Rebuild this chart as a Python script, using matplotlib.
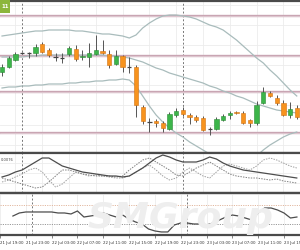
import matplotlib
matplotlib.use("Agg")
import matplotlib.pyplot as plt
from matplotlib.patches import Rectangle
import numpy as np

# ---------------- data ----------------
opens  = [1.1928,1.1933,1.1940,1.1947,1.1947,1.1947,1.1956,1.1950,1.1943,1.1942,
          1.1946,1.1951,1.1943,1.1943,1.1946,1.1949,1.1946,1.1936,1.1944,1.1933,
          1.1933,1.1893,1.1878,1.1879,1.1877,1.1871,1.1885,1.1890,1.1885,1.1883,
          1.1882,1.1871,1.1871,1.1880,1.1885,1.1888,1.1887,1.1880,1.1877,1.1897,
          1.1907,1.1902,1.1897,1.1885,1.1892]
highs  = [1.1936,1.1944,1.1948,1.1948,1.1948,1.1956,1.1958,1.1952,1.1947,1.1947,
          1.1954,1.1955,1.1950,1.1957,1.1965,1.1960,1.1950,1.1950,1.1945,1.1943,
          1.1935,1.1895,1.1882,1.1881,1.1879,1.1888,1.1892,1.1893,1.1887,1.1885,
          1.1884,1.1873,1.1883,1.1886,1.1889,1.1889,1.1889,1.1881,1.1899,1.1913,
          1.1909,1.1905,1.1900,1.1898,1.1895]
lows   = [1.1924,1.1932,1.1939,1.1946,1.1942,1.1944,1.1947,1.1943,1.1939,1.1937,
          1.1944,1.1939,1.1940,1.1933,1.1945,1.1946,1.1932,1.1935,1.1928,1.1927,
          1.1883,1.1876,1.1868,1.1873,1.1868,1.1870,1.1883,1.1884,1.1876,1.1878,
          1.1869,1.1865,1.1870,1.1879,1.1881,1.1886,1.1876,1.1873,1.1875,1.1896,
          1.1903,1.1895,1.1884,1.1882,1.1881]
closes = [1.1933,1.1942,1.1946,1.1947,1.1947,1.1953,1.1948,1.1945,1.1943,1.1942,
          1.1952,1.1941,1.1944,1.1947,1.1950,1.1947,1.1935,1.1944,1.1933,1.1933,
          1.1895,1.1879,1.1878,1.1877,1.1872,1.1886,1.1889,1.1886,1.1883,1.1880,
          1.1870,1.1871,1.1881,1.1884,1.1887,1.1887,1.1877,1.1877,1.1895,1.1908,
          1.1904,1.1897,1.1885,1.1891,1.1883]

bb_upper = [1.1964,1.1965,1.1966,1.1967,1.1968,1.1969,1.1969,1.1970,1.1970,1.1970,
            1.1970,1.1969,1.1969,1.1968,1.1967,1.1966,1.1966,1.1965,1.1964,1.1962,
            1.1965,1.1972,1.1977,1.1981,1.1984,1.1985,1.1985,1.1984,1.1983,1.1981,
            1.1978,1.1975,1.1973,1.1970,1.1965,1.1960,1.1954,1.1948,1.1942,1.1937,
            1.1930,1.1924,1.1917,1.1910,1.1904]
bb_middle = [1.1943,1.1943,1.1943,1.1943,1.1944,1.1944,1.1945,1.1945,1.1945,1.1945,
             1.1945,1.1945,1.1945,1.1945,1.1945,1.1945,1.1944,1.1944,1.1943,1.1942,
             1.1940,1.1938,1.1935,1.1932,1.1930,1.1927,1.1925,1.1923,1.1921,1.1919,
             1.1917,1.1914,1.1912,1.1909,1.1907,1.1904,1.1902,1.1899,1.1896,1.1894,
             1.1892,1.1890,1.1889,1.1888,1.1887]
bb_lower = [1.1912,1.1913,1.1913,1.1914,1.1914,1.1915,1.1915,1.1916,1.1916,1.1916,
            1.1917,1.1917,1.1918,1.1918,1.1919,1.1919,1.1920,1.1920,1.1921,1.1920,
            1.1914,1.1904,1.1894,1.1885,1.1878,1.1872,1.1867,1.1863,1.1858,1.1854,
            1.1850,1.1846,1.1842,1.1839,1.1837,1.1836,1.1837,1.1840,1.1844,1.1850,
            1.1855,1.1859,1.1863,1.1866,1.1868]
levels = [1.1984, 1.1944, 1.1908, 1.1867]

adx      = [16,18,21,23,27,31,35,35,31,27,25,23,21,20,19,18,17,17,16,17,
            21,25,30,35,38,36,33,31,31,31,33,36,34,30,27,25,23,22,21,20,19,18,17,16,15]
di_plus  = [11,13,16,19,23,25,21,13,6,9,15,21,19,17,18,17,16,15,15,17,
            21,25,28,23,17,13,15,21,25,21,17,15,21,27,29,27,25,23,27,33,35,33,30,27,25]
di_minus = [15,13,11,9,7,5,6,11,17,23,23,21,19,18,17,17,17,16,17,23,
            28,33,35,31,27,23,18,17,21,25,28,31,27,23,19,17,16,15,15,14,13,14,12,11,10]

rsi = [46.8,53.2,55.3,55.3,55.3,55.3,55.3,53.2,53.2,51.1,
       57.4,44.7,46.8,48.9,53.2,48.9,44.7,48.9,40.5,34.2,
       30.0,19.5,15.3,13.2,13.2,27.9,32.1,32.1,30.0,30.0,
       27.9,32.1,38.4,44.7,48.9,46.8,42.6,38.4,53.2,63.7,
       63.7,59.5,53.2,42.6,44.7]
rsi_levels = [70, 30]

tick_idx = [-2, 2, 6, 10, 14, 18, 22, 26, 30, 34, 38, 42]
tick_labels = ["21 Jul 19:00", "21 Jul 23:00", "22 Jul 03:00", "22 Jul 07:00",
               "22 Jul 11:00", "22 Jul 15:00", "22 Jul 19:00", "22 Jul 23:00",
               "23 Jul 03:00", "23 Jul 07:00", "23 Jul 11:00", "23 Jul 15:00"]
day_sep = [3, 27]

# ---------------- figure ----------------
W, H = 300, 250
fig = plt.figure(figsize=(3, 2.5), dpi=100)
fig.patch.set_facecolor("white")

def px_axes(top, bottom):
    return fig.add_axes([0, 1 - bottom / H, 1, (bottom - top) / H])

ax_main = px_axes(1, 153)
ax_osc = px_axes(153, 193)
ax_rsi = px_axes(193, 235)

xlim = (-0.3, 44.48)
n = len(opens)
x = np.arange(n)

GREEN, GREEN_E = "#3cb54a", "#2a8a35"
ORANGE, ORANGE_E = "#f7931e", "#d27212"
GRID = "#ececec"
BAND = "#a9bcbc"

for ax in (ax_main, ax_osc, ax_rsi):
    ax.set_xlim(*xlim)
    ax.set_facecolor("white")
    for s in ("left", "right"):
        ax.spines[s].set_visible(False)
    ax.tick_params(left=False, labelleft=False, right=False, bottom=False, labelbottom=False)
    for t in tick_idx:
        ax.axvline(t, color=GRID, lw=0.6, zorder=0)
    for d in day_sep:
        ax.axvline(d, color="#777777", lw=0.7, ls=(0, (2, 2)), zorder=1)
    ax.spines["top"].set_color("#4a4a4a")
    ax.spines["top"].set_linewidth(1.6)
    ax.spines["bottom"].set_color("#4a4a4a")
    ax.spines["bottom"].set_linewidth(1.6)

# main panel
ax_main.set_ylim(1.1847, 1.1999)
for yv in np.arange(1.1855, 1.2000, 0.0020):
    ax_main.axhline(yv, color=GRID, lw=0.6, zorder=0)
for lv in levels:
    ax_main.axhline(lv, color="#c9a5b3", lw=1.7, zorder=1)
    ax_main.axhline(lv, color="#e6d3da", lw=0.5, zorder=1)
ax_main.plot(x, bb_upper, color=BAND, lw=0.9, zorder=2)
ax_main.plot(x, bb_middle, color=BAND, lw=0.9, zorder=2)
ax_main.plot(x, bb_lower, color=BAND, lw=0.9, zorder=2)

bw = 0.64
for i in range(n):
    o, h, l, c = opens[i], highs[i], lows[i], closes[i]
    ax_main.vlines(i, l, h, color="#555555", lw=0.7, zorder=3)
    if abs(c - o) < 0.00005:
        ax_main.hlines(o, i - bw / 2, i + bw / 2, color="#444444", lw=0.9, zorder=4)
    else:
        up = c > o
        ax_main.add_patch(Rectangle((i - bw / 2, min(o, c)), bw, abs(c - o),
                                    facecolor=GREEN if up else ORANGE,
                                    edgecolor=GREEN_E if up else ORANGE_E,
                                    lw=0.4, zorder=4))

# logo box top-left
fig.patches.append(Rectangle((0, 1 - 13 / H), 10 / W, 13 / H, transform=fig.transFigure,
                             facecolor="#8cb63c", edgecolor="none", zorder=10))
fig.text(5 / W, 1 - 7 / H, "11", color="white", fontsize=4, ha="center", va="center",
         fontweight="bold", zorder=11)

# oscillator panel
ax_osc.set_ylim(0, 40)
for yv in (10, 20, 30):
    ax_osc.axhline(yv, color=GRID, lw=0.6, zorder=0)
ax_osc.plot(x, di_plus, color="#a0a0a0", lw=0.7, ls=(0, (1.5, 1.2)), zorder=2)
ax_osc.plot(x, di_minus, color="#808080", lw=0.7, ls=(0, (1.5, 1.2)), zorder=2)
ax_osc.plot(x, adx, color="#4d4d4d", lw=0.9, zorder=3)
ax_osc.text(0.003, 0.82, "0.0076", transform=ax_osc.transAxes, fontsize=2.6,
            color="#444444", ha="left", va="center")

# rsi panel
ax_rsi.set_ylim(6.8, 95.3)
fig.text(0.6, 1 - 218 / H, "SMGroup", fontsize=26, color="#eeeeee", ha="center",
         va="center", fontweight="bold", fontstyle="italic", zorder=0.5)
ax_rsi.patch.set_alpha(0)
ax_rsi.axhline(rsi_levels[0], color="#e2b8a0", lw=0.7, ls=(0, (1.2, 1.2)), zorder=1)
ax_rsi.axhline(rsi_levels[1], color="#999999", lw=0.7, ls=(0, (1.2, 1.2)), zorder=1)
ax_rsi.plot(x, rsi, color="#4d4d4d", lw=0.9, zorder=3)

ax_rsi.set_xticks(tick_idx)
ax_rsi.set_xticklabels(tick_labels, fontsize=2.8, color="#333333", ha="left")
ax_rsi.tick_params(bottom=True, labelbottom=True, length=2, width=0.5, color="#555555", pad=2.5)

fig.savefig("out.png", dpi=100, facecolor="white")
